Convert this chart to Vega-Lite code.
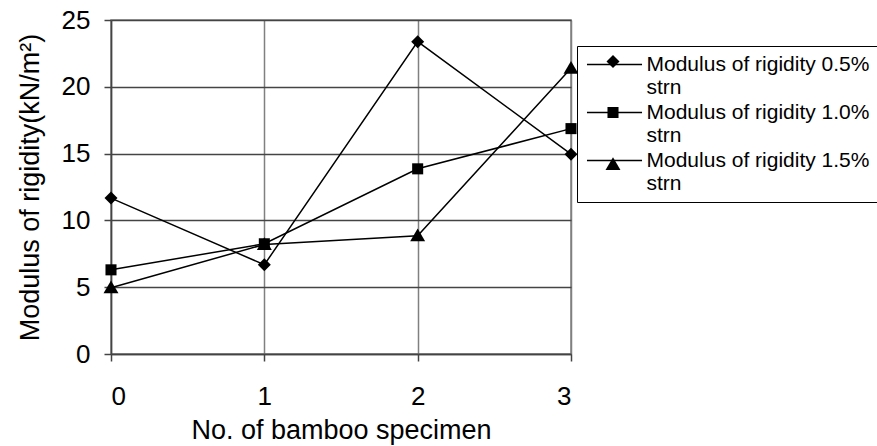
{
  "$schema": "https://vega.github.io/schema/vega-lite/v6.json",
  "width": 460,
  "height": 334,
  "autosize": {"type": "none"},
  "padding": {"left": 111, "top": 20, "right": 306, "bottom": 92},
  "config": {
    "font": "Liberation Sans",
    "view": {"stroke": "#808080", "strokeWidth": 1.5},
    "axis": {"labelColor": "#000", "titleColor": "#000", "titleFontWeight": "normal", "labelFont": "Liberation Sans", "titleFont": "Liberation Sans"}
  },
  "data": {
    "values": [
      {"series": "Modulus of rigidity 0.5% strn", "specimen": 0, "value": 11.67},
      {"series": "Modulus of rigidity 0.5% strn", "specimen": 1, "value": 6.68},
      {"series": "Modulus of rigidity 0.5% strn", "specimen": 2, "value": 23.38},
      {"series": "Modulus of rigidity 0.5% strn", "specimen": 3, "value": 14.96},
      {"series": "Modulus of rigidity 1.0% strn", "specimen": 0, "value": 6.3},
      {"series": "Modulus of rigidity 1.0% strn", "specimen": 1, "value": 8.25},
      {"series": "Modulus of rigidity 1.0% strn", "specimen": 2, "value": 13.86},
      {"series": "Modulus of rigidity 1.0% strn", "specimen": 3, "value": 16.87},
      {"series": "Modulus of rigidity 1.5% strn", "specimen": 0, "value": 4.96},
      {"series": "Modulus of rigidity 1.5% strn", "specimen": 1, "value": 8.2},
      {"series": "Modulus of rigidity 1.5% strn", "specimen": 2, "value": 8.85},
      {"series": "Modulus of rigidity 1.5% strn", "specimen": 3, "value": 21.39}
    ]
  },
  "encoding": {
    "x": {
      "field": "specimen", "type": "quantitative",
      "scale": {"domain": [0, 3], "nice": false},
      "axis": {
        "title": "No. of bamboo specimen", "values": [0, 1, 2, 3],
        "grid": true, "gridColor": "#808080", "gridOpacity": 1, "gridWidth": 1.5,
        "domainColor": "#444", "domainWidth": 1.5, "tickColor": "#444", "tickWidth": 1.5, "tickSize": 7,
        "labelFontSize": 26, "labelPadding": 22, "titleFontSize": 27, "titlePadding": 8
      }
    },
    "y": {
      "field": "value", "type": "quantitative",
      "scale": {"domain": [0, 25], "nice": false},
      "axis": {
        "title": "Modulus of rigidity(kN/m²)", "values": [0, 5, 10, 15, 20, 25],
        "grid": true, "gridColor": "#444", "gridOpacity": 1, "gridWidth": 1.5,
        "domainColor": "#444", "domainWidth": 1.5, "tickColor": "#444", "tickWidth": 1.5, "tickSize": 7,
        "labelFontSize": 26, "labelPadding": 14, "titleFontSize": 27, "titlePadding": 17
      }
    }
  },
  "layer": [
    {
      "mark": {"type": "line", "strokeWidth": 1.5},
      "encoding": {
        "color": {
          "field": "series",
          "scale": {"range": ["#000", "#000", "#000"]},
          "legend": {
            "title": null, "orient": "none", "legendX": 466, "legendY": 26,
            "strokeColor": "#000", "fillColor": "#fff", "padding": 8,
            "symbolType": "M-3.44,0L3.44,0", "symbolSize": 256, "symbolStrokeWidth": 1.5,
            "symbolStrokeColor": "#000", "symbolOffset": 19,
            "labelFontSize": 21, "labelOffset": 21.5, "labelColor": "#000",
            "labelBaseline": "middle", "labelLimit": 400, "rowPadding": 3,
            "labelExpr": "[replace(datum.label, ' strn', ''), 'strn']"
          }
        }
      }
    },
    {
      "mark": {"type": "point", "filled": true, "color": "#000", "opacity": 1, "size": 169},
      "encoding": {
        "shape": {
          "field": "series",
          "scale": {"range": [
            "M0,-1L1,0L0,1L-1,0Z",
            "M-0.85,-0.85L0.85,-0.85L0.85,0.85L-0.85,0.85Z",
            "M0,-1.1L1.15,0.85L-1.15,0.85Z"
          ]},
          "legend": {
            "title": null, "orient": "none", "legendX": 494.5, "legendY": 34,
            "padding": 0, "symbolSize": 169, "symbolOffset": 0,
            "symbolFillColor": "#000", "symbolStrokeColor": "#000", "symbolOpacity": 1,
            "labelExpr": "''", "labelFontSize": 1, "labelOffset": 0, "rowPadding": 32
          }
        }
      }
    }
  ]
}
